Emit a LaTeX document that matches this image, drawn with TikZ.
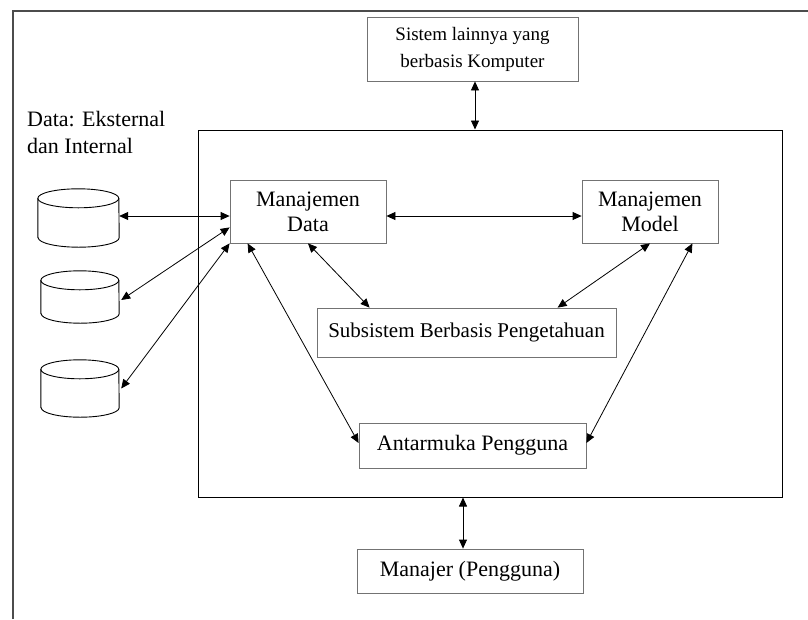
\documentclass[tikz,border=0pt]{standalone}
\usepackage{fontspec}
\setmainfont{Liberation Serif}
\usetikzlibrary{arrows.meta,shadows,calc}
\begin{document}
\begin{tikzpicture}[x=1pt,y=-1pt,
  box/.style={draw=black!55, line width=0.8pt, fill=white, align=center, inner sep=0pt,
    font=\fontsize{22}{25}\selectfont,
    drop shadow={shadow xshift=1.1pt, shadow yshift=-1.1pt, fill=black!60, opacity=1}},
  arr/.style={{Triangle[length=9pt,width=8pt]}-{Triangle[length=9pt,width=8pt]}, line width=0.8pt},
  cyl/.style={draw, line width=0.9pt, fill=white},
  lbl/.style={anchor=base west, inner sep=0pt, font=\fontsize{22}{27}\selectfont}]
\useasboundingbox (0,0) rectangle (808,619);
\fill[white] (0,0) rectangle (808,619);
% outer frame (cropped)
\draw[black!70, line width=1.8pt] (13,619) -- (13,11) -- (808,11);

% main system box
\node[draw, line width=1pt, minimum width=584pt, minimum height=367pt, inner sep=0pt] (main) at (490,313.5) {};

% boxes
\node[box, minimum width=211pt, minimum height=64pt, font=\fontsize{19}{27}\selectfont] (top) at (472.5,49) {Sistem lainnya yang\\berbasis Komputer};
\node[box, minimum width=156pt, minimum height=63pt] (md) at (308,211.5) {Manajemen\\Data};
\node[box, minimum width=136pt, minimum height=63pt] (mm) at (650,211.5) {Manajemen\\Model};
\node[box, minimum width=299pt, minimum height=49pt, font=\fontsize{21}{25}\selectfont] (sb) at (466.5,332.5) {Subsistem Berbasis Pengetahuan};
\node[box, minimum width=227pt, minimum height=45pt] (ap) at (472.5,445.5) {Antarmuka Pengguna};
\node[box, minimum width=226pt, minimum height=44pt] (mp) at (470,571) {Manajer (Pengguna)};

% label
\node[lbl] (l1) at (27,126) {Data: Eksternal};
\node[lbl] (l2) at (27,153) {dan Internal};

% cylinders
\foreach \n/\cx/\cy/\w/\h in {c1/78.5/218/81/58, c2/80/297/78/52, c3/80/388.5/78/57}{
  \node[minimum width=\w pt, minimum height=\h pt, inner sep=0pt] (\n) at (\cx,\cy) {};
  \draw[cyl] ([yshift=9.5pt]\n.south west) -- ([yshift=-9.5pt]\n.north west)
    arc[start angle=180, end angle=0, x radius=\w pt/2, y radius=9.5pt]
    -- ([yshift=9.5pt]\n.south east)
    arc[start angle=0, end angle=-180, x radius=\w pt/2, y radius=9.5pt] -- cycle;
  \draw[line width=0.9pt] ([yshift=-9.5pt]\n.north west)
    arc[start angle=180, end angle=360, x radius=\w pt/2, y radius=9.5pt];
}

% connectors
\draw[arr] ($(top.south)+(2.5,0)$) -- ($(top.south |- main.north)+(2.5,0)$);
\draw[arr] ($(c1.east |- md.west)+(0,4.5)$) -- ($(md.west)+(0,4.5)$);
\draw[arr] ($(c2.east)+(2,3)$) -- ($(md.south west)+(0,-16)$);
\draw[arr] ($(c3.east)+(2,0)$) -- (md.south west);
\draw[arr] ($(md.south west)+(18,0)$) -- ($(ap.west)+(0,-2.5)$);
\draw[arr] (md.south) -- ($(sb.north west)+(53,0)$);
\draw[arr] ($(md.east)+(0,4.5)$) -- ($(mm.west)+(0,4.5)$);
\draw[arr] (mm.south) -- ($(sb.north west)+(241,0)$);
\draw[arr] ($(mm.south east)+(-26,0)$) -- ($(ap.east)+(0,-2.5)$);
\draw[arr] ($(mp.north)+(-7,0)$) -- ($(mp.north |- main.south)+(-7,0)$);
\end{tikzpicture}
\end{document}
